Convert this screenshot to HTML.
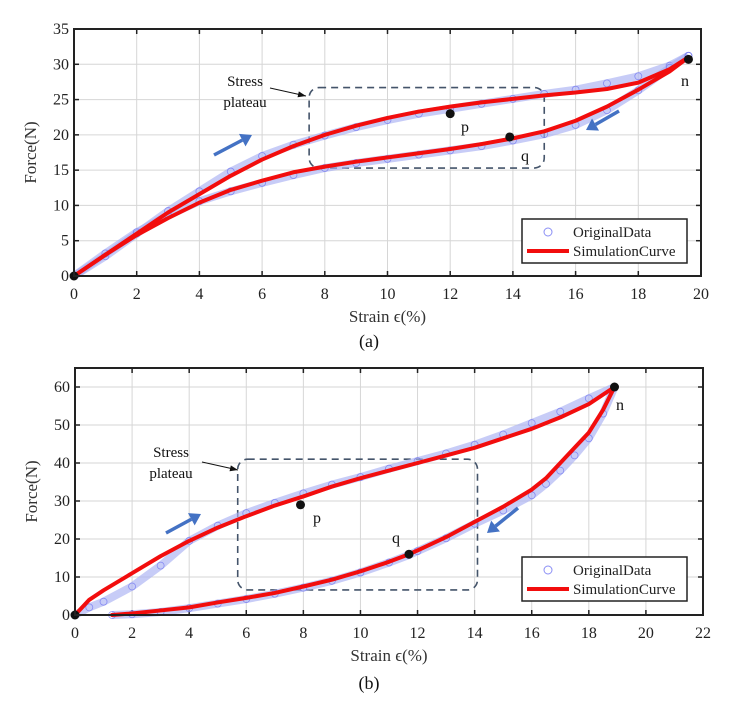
<!DOCTYPE html>
<html><head><meta charset="utf-8"><style>
body{margin:0;background:#fff}
svg text{font-family:"Liberation Serif",serif}
</style></head><body>
<svg id="svg" width="729" height="710" xmlns="http://www.w3.org/2000/svg"></svg>
<script>
// ---- Data (a)
const aXTicks=[0,2,4,6,8,10,12,14,16,18,20];
const aYTicks=[0,5,10,15,20,25,30,35];
const aLoadX=[0,1,2,3,4,5,6,7,8,9,10,11,12,13,14,15,16,17,18,19,19.6];
const aLoadY=[0,3,6,9,11.6,14.2,16.5,18.4,20,21.3,22.4,23.3,24,24.6,25.1,25.6,26,26.5,27.4,29.3,31];
const aUnX=[19.6,19,18,17,16,15,14,13,12,11,10,9,8,7,6,5,4,3,2,1,0];
const aUnY=[31,29,26.4,24,22,20.5,19.5,18.7,18,17.4,16.8,16.2,15.5,14.7,13.5,12.2,10.4,8.2,5.8,3,0];
const aDataLoadY=[0,2.8,6,9.2,12,14.8,17,18.6,19.9,21.1,22.1,23,23.7,24.4,25.1,25.8,26.4,27.3,28.3,29.8,31.2];
const aDataUnY=[31.2,29.5,26.3,23.5,21.4,20.1,19.2,18.4,17.8,17.2,16.6,16,15.3,14.3,13.2,12,10.6,8.6,6.2,3.2,0];
const aMarkX=[0,12,13.9,19.6]; const aMarkY=[0,23,19.7,30.7];
// ---- Data (b)
const bXTicks=[0,2,4,6,8,10,12,14,16,18,20,22];
const bYTicks=[0,10,20,30,40,50,60];
const bLoadX=[0,0.5,1,2,3,4,5,6,7,8,9,10,11,12,13,14,15,16,17,18,18.9];
const bLoadY=[0,4,6.5,11,15.5,19.5,23,26,28.8,31.2,33.8,36,38,40,42,44,46.5,49,52,55.5,60];
const bDataLoadY=[0,2,3.5,7.5,13,19.5,23.5,26.8,29.5,32,34.3,36.3,38.5,40.5,42.5,44.8,47.5,50.5,53.5,57,60];
const bUnX=[18.9,18.5,18,17.5,17,16.5,16,15,14,13,12,11.7,11,10,9,8,7,6,5,4,3,2,1.3];
const bUnY=[60,54,48,44,40,36,33,28.5,24.5,20.5,17,16,14,11.5,9.3,7.5,5.8,4.5,3.3,2,1.2,0.4,0];
const bDataUnY=[60,53,46.5,42,38,34.5,31.5,27.5,24,20.2,16.8,15.8,13.8,11.2,9,7.2,5.6,4.2,3,1.8,0.8,0.2,0];
const bMarkX=[0,7.9,11.7,18.9]; const bMarkY=[0,29,16,60];

const NS="http://www.w3.org/2000/svg", svg=document.getElementById('svg');
function el(tag,attrs,parent,text){const e=document.createElementNS(NS,tag);for(const k in attrs)e.setAttribute(k,attrs[k]);if(text!==undefined)e.textContent=text;(parent||svg).appendChild(e);return e;}

function panel(cfg){
  const g=el('g',{});
  
  
  const {L,R,T,B,xmax,ymax}=cfg;
  const sx=v=>L+(R-L)*v/xmax, sy=v=>B-(B-T)*v/ymax;
  cfg.xt.forEach(v=>{const l=el('line',{x1:sx(v),x2:sx(v),y1:T,y2:B,stroke:'#d6d6d6','stroke-width':1},g);
    });
  cfg.yt.forEach(v=>{const l=el('line',{x1:L,x2:R,y1:sy(v),y2:sy(v),stroke:'#d6d6d6','stroke-width':1},g);
    });
  cfg.xt.forEach(v=>{el('line',{x1:sx(v),x2:sx(v),y1:B,y2:B-5,stroke:'#222','stroke-width':1.5},g);el('line',{x1:sx(v),x2:sx(v),y1:T,y2:T+5,stroke:'#222','stroke-width':1.5},g);
    const t=el('text',{x:sx(v),y:B+cfg.off[0],'text-anchor':'middle','font-size':16,fill:'#222'},g,String(v));
    });
  cfg.yt.forEach(v=>{el('line',{x1:L,x2:L+5,y1:sy(v),y2:sy(v),stroke:'#222','stroke-width':1.5},g);el('line',{x1:R,x2:R-5,y1:sy(v),y2:sy(v),stroke:'#222','stroke-width':1.5},g);
    const t=el('text',{x:L-5,y:sy(v)+5,'text-anchor':'end','font-size':16,fill:'#222'},g,String(v));
    });
  const bx=cfg.box;
  const r=el('rect',{x:sx(bx[0]),y:sy(bx[3]),width:sx(bx[1])-sx(bx[0]),height:sy(bx[2])-sy(bx[3]),rx:10,fill:'none',stroke:'#44546a','stroke-width':1.6,'stroke-dasharray':'7,5'},g);
  
  function dataSeries(xs,ys,nm){
    const pts=xs.map((x,i)=>sx(x)+','+sy(ys[i])).join(' ');
    const pl=el('polyline',{points:pts,fill:'none',stroke:'#a9b0f2','stroke-width':8,'stroke-opacity':0.65,'stroke-linejoin':'round'},g);
    
    xs.forEach((x,i)=>{const c=el('circle',{cx:sx(x),cy:sy(ys[i]),r:3.5,fill:'none',stroke:'#6a6ef0','stroke-width':0.8,'stroke-opacity':0.7},g);
      });
  }
  dataSeries(cfg.lx,cfg.dly,'original-loading');
  dataSeries(cfg.ux,cfg.duy,'original-unloading');
  function curve(xs,ys,nm){
    const pl=el('polyline',{points:xs.map((x,i)=>sx(x)+','+sy(ys[i])).join(' '),fill:'none',stroke:'#f20d0d','stroke-width':4,'stroke-linejoin':'round','stroke-linecap':'round'},g);
    
  }
  curve(cfg.lx,cfg.ly,'simulation-loading-curve');
  curve(cfg.ux,cfg.uy,'simulation-unloading-curve');
  cfg.mx.forEach((x,i)=>{const c=el('circle',{cx:sx(x),cy:sy(cfg.my[i]),r:4.5,fill:'#111'},g);
    });
  cfg.labels.forEach(l=>{const t=el('text',{x:l[1],y:l[2],'font-size':16,fill:'#111'},g,l[0]);
    });
  const f=el('rect',{x:L,y:T,width:R-L,height:B-T,fill:'none',stroke:'#222','stroke-width':2},g);
  
  const yt=el('text',{x:0,y:0,transform:`translate(${L-38},${(T+B)/2}) rotate(-90)`,'text-anchor':'middle','font-size':17,fill:'#333'},g,'Force(N)');
  
  const xt=el('text',{x:(L+R)/2,y:B+cfg.off[1],'text-anchor':'middle','font-size':17,fill:'#333'},g,'Strain ϵ(%)');
  
  const cap=el('text',{x:369,y:B+cfg.off[2],'text-anchor':'middle','font-size':18,fill:'#111'},g,cfg.cap);
  
  const lg=el('g',{},g);
  const ly=cfg.legY;
  el('rect',{x:522,y:ly,width:165,height:44,fill:'#fff',stroke:'#222','stroke-width':1.5},lg);
  el('circle',{cx:548,cy:ly+13,r:4,fill:'none',stroke:'#8a8ef5','stroke-width':1},lg);
  el('line',{x1:527,x2:569,y1:ly+32,y2:ly+32,stroke:'#f20d0d','stroke-width':4},lg);
  el('text',{x:573,y:ly+18,'font-size':15,fill:'#222'},lg,'OriginalData');
  el('text',{x:573,y:ly+37,'font-size':15,fill:'#222'},lg,'SimulationCurve');
  const an=cfg.ann;
  const at=el('text',{x:an[0],y:an[1],'text-anchor':'middle','font-size':15,fill:'#111'},g,'Stress');
  
  el('text',{x:an[0],y:an[1]+21,'text-anchor':'middle','font-size':15,fill:'#111'},g,'plateau');
  el('line',{x1:an[2],y1:an[3],x2:an[4],y2:an[5],stroke:'#111','stroke-width':1},g);
  {const dx=an[4]-an[2],dy=an[5]-an[3],len=Math.hypot(dx,dy),ux=dx/len,uy=dy/len,bx2=an[4]-ux*8,by2=an[5]-uy*8;
   el('polygon',{points:`${an[4]},${an[5]} ${bx2-uy*3},${by2+ux*3} ${bx2+uy*3},${by2-ux*3}`,fill:'#111'},g);}
  cfg.arrows.forEach(a=>{
    const ar=el('g',{},g);
    const dx=a[2]-a[0],dy=a[3]-a[1],len=Math.hypot(dx,dy),ux=dx/len,uy=dy/len;
    const bx2=a[2]-ux*11,by2=a[3]-uy*11;
    el('line',{x1:a[0],y1:a[1],x2:bx2,y2:by2,stroke:'#4472c4','stroke-width':3.5},ar);
    el('polygon',{points:`${a[2]},${a[3]} ${bx2-uy*7},${by2+ux*7} ${bx2+uy*7},${by2-ux*7}`,fill:'#4472c4'},ar);
  });
}
panel({name:'chart-a',L:74,R:701,T:29,B:276,xmax:20,ymax:35,xt:aXTicks,yt:aYTicks,
  lx:aLoadX,ly:aLoadY,dly:aDataLoadY,ux:aUnX,uy:aUnY,duy:aDataUnY,mx:aMarkX,my:aMarkY,
  box:[7.5,15,15.3,26.7],labels:[['p',461,132],['q',521,161],['n',681,86]],off:[23,46,71],
  cap:'(a)',legY:219,ann:[245,86,270,88,306,96],arrows:[[214,155,252,135],[619,111,586,130]]});
panel({name:'chart-b',L:75,R:703,T:368,B:615,xmax:22,ymax:65,xt:bXTicks,yt:bYTicks,
  lx:bLoadX,ly:bLoadY,dly:bDataLoadY,ux:bUnX,uy:bUnY,duy:bDataUnY,mx:bMarkX,my:bMarkY,
  box:[5.7,14.1,6.6,41],labels:[['p',313,523],['q',392,543],['n',616,410]],off:[23,46,74],
  cap:'(b)',legY:557,ann:[171,457,202,462,238,470],arrows:[[166,533,201,514],[518,508,487,533]]});
</script>
</body></html>
